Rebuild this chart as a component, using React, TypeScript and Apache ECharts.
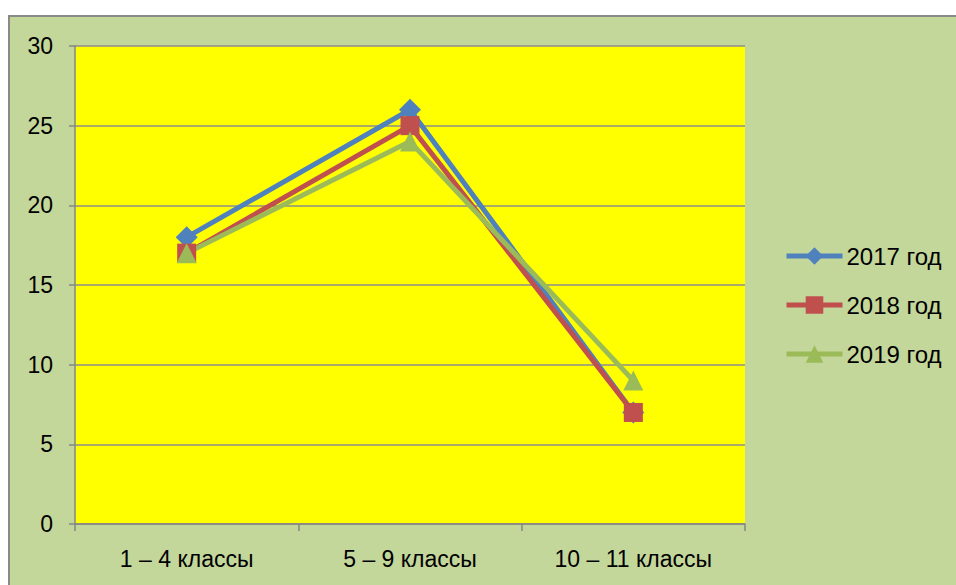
import React, { useEffect, useRef } from "react";
import * as echarts from "echarts";

const categories = ["1 – 4 классы", "5 – 9 классы", "10 – 11 классы"];
const seriesNames = ["2017 год", "2018 год", "2019 год"];
const values2017 = [18, 26, 7];
const values2018 = [17, 25, 7];
const values2019 = [17, 24, 9];
const colors = ["#4F81BD", "#C0504D", "#9BBB59"];
const symbols = ["diamond", "rect", "triangle"];
const symbolSizes = [22, 19, 20];

export default function App() {
  const ref = useRef<HTMLDivElement>(null);
  useEffect(() => {
    if (!ref.current) return;
    const chart = echarts.init(ref.current, undefined, { renderer: "svg" });
    const data = [values2017, values2018, values2019];
    const font = "'Liberation Sans', Arial, sans-serif";
    chart.setOption({
      animation: false,
      backgroundColor: "#C4D79B",
      textStyle: { fontFamily: font },
      grid: {
        left: 65,
        top: 29,
        right: 211,
        bottom: 61,
        show: true,
        backgroundColor: "#FFFF00",
        borderWidth: 0,
      },
      legend: {
        orient: "vertical",
        left: 774,
        top: 227,
        padding: 0,
        itemWidth: 56,
        itemHeight: 22,
        itemGap: 25,
        lineStyle: { width: 5 },
        textStyle: { fontSize: 24, color: "#000", fontFamily: font, padding: [0, 0, 0, -1] },
        data: seriesNames,
      },
      xAxis: {
        type: "category",
        data: categories,
        boundaryGap: true,
        axisLine: { lineStyle: { color: "#868686", width: 1.5 } },
        axisTick: { show: true, length: 7, lineStyle: { color: "#868686", width: 1.5 } },
        axisLabel: { fontSize: 23, color: "#000", margin: 23, fontFamily: font },
      },
      yAxis: {
        type: "value",
        min: 0,
        max: 30,
        interval: 5,
        axisLine: { show: true, lineStyle: { color: "#868686", width: 1.5 } },
        axisTick: { show: true, length: 6, lineStyle: { color: "#868686", width: 1.5 } },
        axisLabel: { fontSize: 23, color: "#000", margin: 22, fontFamily: font },
        splitLine: { show: true, lineStyle: { color: "#8C8C8C", width: 1.5 } },
      },
      series: seriesNames.map((name, i) => ({
        name,
        type: "line",
        data: data[i],
        symbol: symbols[i],
        symbolSize: symbolSizes[i],
        showAllSymbol: true,
        lineStyle: { color: colors[i], width: 5 },
        itemStyle: { color: colors[i] },
      })),
    });
    return () => chart.dispose();
  }, []);
  return (
    <div
      style={{
        position: "absolute",
        left: 8,
        top: 15,
        width: 948,
        height: 570,
        borderLeft: "2px solid #8A8A8A",
        borderTop: "2px solid #8A8A8A",
        boxSizing: "border-box",
        background: "#C4D79B",
        overflow: "hidden",
      }}
    >
      <div ref={ref} style={{ position: "absolute", left: 0, top: 0, width: 946, height: 568 }} />
    </div>
  );
}
